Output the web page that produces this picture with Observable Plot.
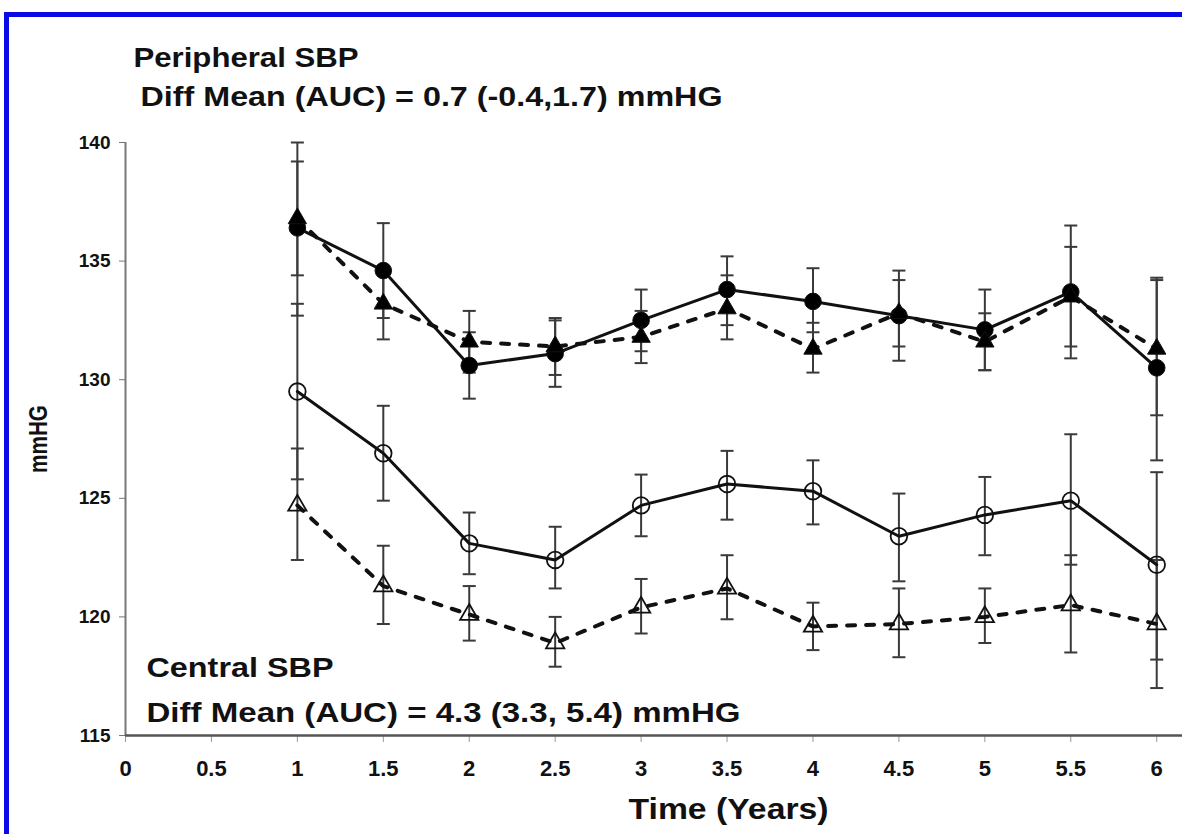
<!DOCTYPE html>
<html>
<head>
<meta charset="utf-8">
<script src="https://cdn.jsdelivr.net/npm/d3@7"></script>
<script src="https://cdn.jsdelivr.net/npm/@observablehq/plot@0.6"></script>
<style>
  html, body { margin: 0; padding: 0; background: #fff; }
  #wrap { position: relative; width: 1182px; height: 834px; overflow: hidden; background: #fff; }
  #wrap svg { position: absolute; left: 0; top: 0; font-family: "Liberation Sans", Arial, Helvetica, sans-serif; }
  .frame-top { position: absolute; left: 4px; top: 12px; width: 1178px; height: 5px; background: #0a0ae6; }
  .frame-left { position: absolute; left: 4px; top: 12px; width: 5px; height: 822px; background: #0a0ae6; }
</style>
</head>
<body>
<div id="wrap">
  <div class="frame-top"></div>
  <div class="frame-left"></div>
</div>
<script>
// Visit times (years)
const years = [1, 1.5, 2, 2.5, 3, 3.5, 4, 4.5, 5, 5.5, 6];

// Peripheral SBP, group shown with filled circles (solid line)
const peripheralCircle     = [136.4, 134.6, 130.6, 131.1, 132.5, 133.8, 133.3, 132.7, 132.1, 133.7, 130.5];
const peripheralCircleLow  = [132.7, 132.6, 129.2, 129.7, 131.2, 132.3, 132.0, 130.8, 130.4, 130.9, 126.6];
const peripheralCircleHigh = [140.0, 136.6, 132.0, 132.5, 133.8, 135.2, 134.7, 134.6, 133.8, 136.5, 134.3];

// Peripheral SBP, group shown with filled triangles (dashed line)
const peripheralTriangle     = [136.8, 133.2, 131.6, 131.4, 131.8, 133.0, 131.3, 132.8, 131.6, 133.5, 131.3];
const peripheralTriangleLow  = [134.4, 131.7, 130.3, 130.2, 130.7, 131.7, 130.3, 131.4, 130.4, 131.4, 128.5];
const peripheralTriangleHigh = [139.2, 134.8, 132.9, 132.6, 132.9, 134.4, 132.4, 134.2, 132.8, 135.6, 134.2];

// Central SBP, group shown with open circles (solid line)
const centralCircle     = [129.5, 126.9, 123.1, 122.4, 124.7, 125.6, 125.3, 123.4, 124.3, 124.9, 122.2];
const centralCircleLow  = [125.8, 124.9, 121.8, 121.2, 123.4, 124.1, 123.9, 121.5, 122.6, 122.2, 118.2];
const centralCircleHigh = [133.2, 128.9, 124.4, 123.8, 126.0, 127.0, 126.6, 125.2, 125.9, 127.7, 126.1];

// Central SBP, group shown with open triangles (dashed line)
const centralTriangle     = [124.7, 121.3, 120.1, 118.9, 120.4, 121.2, 119.6, 119.7, 120.0, 120.5, 119.7];
const centralTriangleLow  = [122.4, 119.7, 119.0, 117.9, 119.3, 119.9, 118.6, 118.3, 118.9, 118.5, 117.0];
const centralTriangleHigh = [127.1, 123.0, 121.3, 120.0, 121.6, 122.6, 120.6, 121.2, 121.2, 122.6, 122.4];

// Axis ticks and labels
const xTicks = [0, 0.5, 1, 1.5, 2, 2.5, 3, 3.5, 4, 4.5, 5, 5.5, 6];
const yTicks = [115, 120, 125, 130, 135, 140];
const peripheralTitle = "Peripheral SBP";
const peripheralDiff = "Diff Mean (AUC) = 0.7 (-0.4,1.7) mmHG";
const centralTitle = "Central SBP";
const centralDiff = "Diff Mean (AUC) = 4.3 (3.3, 5.4) mmHG";
const xLabel = "Time (Years)";
const yLabel = "mmHG";

const toRows = (mean, low, high) =>
  years.map((t, i) => ({t, v: mean[i], lo: low[i], hi: high[i]}));

const series = [
  {rows: toRows(peripheralCircle, peripheralCircleLow, peripheralCircleHigh), symbol: "circle", fill: "#000", dashed: false},
  {rows: toRows(peripheralTriangle, peripheralTriangleLow, peripheralTriangleHigh), symbol: "triangle", fill: "#000", dashed: true},
  {rows: toRows(centralCircle, centralCircleLow, centralCircleHigh), symbol: "circle", fill: "none", dashed: false},
  {rows: toRows(centralTriangle, centralTriangleLow, centralTriangleHigh), symbol: "triangle", fill: "none", dashed: true}
];

// Short horizontal stroke used as the error-bar cap
const capSymbol = {
  draw(context, size) {
    const w = Math.sqrt(size / Math.PI);
    context.moveTo(-w, 0);
    context.lineTo(w, 0);
  }
};

const barColor = "#3a3a3a";
const ink = "#111";
const titleFont = 28;

const marks = [];

// Error bars with caps
for (const s of series) {
  marks.push(Plot.ruleX(s.rows, {x: "t", y1: "lo", y2: "hi", stroke: barColor, strokeWidth: 2}));
  marks.push(Plot.dot(s.rows, {x: "t", y: "lo", symbol: capSymbol, r: 6.5, stroke: barColor, strokeWidth: 2, fill: "none"}));
  marks.push(Plot.dot(s.rows, {x: "t", y: "hi", symbol: capSymbol, r: 6.5, stroke: barColor, strokeWidth: 2, fill: "none"}));
}

// Connecting lines
for (const s of series) {
  marks.push(Plot.line(s.rows, {
    x: "t", y: "v", stroke: ink,
    strokeWidth: s.dashed ? 4 : 3,
    strokeDasharray: s.dashed ? "8,11" : null
  }));
}

// Markers
for (const s of series) {
  const isTri = s.symbol === "triangle";
  marks.push(Plot.dot(s.rows, {
    x: "t", y: "v", symbol: s.symbol,
    r: isTri ? 6.8 : 8.3,
    fill: s.fill,
    stroke: ink,
    strokeWidth: s.fill === "none" ? 1.8 : 1
  }));
}

// Tick labels drawn as text marks so their lettering can be set directly
const tickFont = {fontWeight: "bold", fill: ink};

const chart = Plot.plot({
  width: 1182,
  height: 834,
  marginTop: 142,
  marginBottom: 99,
  marginLeft: 125,
  marginRight: 0,
  x: {domain: [0, 6.15]},
  y: {domain: [115, 140]},
  marks: [
    // y axis
    Plot.axisY({ticks: yTicks, tickSize: 6, label: null, stroke: "#777", text: null}),
    Plot.text(yTicks, {y: d => d, frameAnchor: "left", dx: -15, textAnchor: "end",
      text: d => String(d), fontSize: 19, ...tickFont}),
    Plot.ruleX([0], {y1: 115, y2: 140, stroke: "#777", strokeWidth: 2}),
    // x axis
    Plot.axisX({ticks: xTicks, tickSize: 7, label: null, stroke: "#999", text: null}),
    Plot.text(xTicks, {x: d => d, frameAnchor: "bottom", dy: 40, text: d => String(d),
      fontSize: 22, ...tickFont}),
    Plot.ruleY([115], {stroke: "#555", strokeWidth: 2.5}),
    ...marks,
    // Annotations
    Plot.text([peripheralTitle], {frameAnchor: "top-left", dx: 8, dy: -95, text: d => d,
      textAnchor: "start", fontSize: titleFont, fontWeight: "bold", fill: ink}),
    Plot.text([peripheralDiff], {frameAnchor: "top-left", dx: 15, dy: -56, text: d => d,
      textAnchor: "start", fontSize: titleFont, fontWeight: "bold", fill: ink}),
    Plot.text([centralTitle], {frameAnchor: "bottom-left", dx: 21, dy: -59, text: d => d,
      textAnchor: "start", fontSize: titleFont, fontWeight: "bold", fill: ink}),
    Plot.text([centralDiff], {frameAnchor: "bottom-left", dx: 21, dy: -14, text: d => d,
      textAnchor: "start", fontSize: titleFont, fontWeight: "bold", fill: ink}),
    Plot.text([xLabel], {frameAnchor: "bottom-left", dx: 603, dy: 83, text: d => d,
      textAnchor: "middle", fontSize: 30, fontWeight: "bold", fill: ink}),
    Plot.text([yLabel], {frameAnchor: "left", dx: -87, text: d => d, rotate: -90,
      textAnchor: "middle", fontSize: 26, fontWeight: "bold", fill: ink})
  ]
});

// The lettering in this figure is set slightly wide; fit each label to its run length
const runLength = new Map([
  [peripheralTitle, 225],
  [peripheralDiff, 582],
  [centralTitle, 187],
  [centralDiff, 594],
  [xLabel, 200],
  [yLabel, 68]
]);
d3.select(chart).selectAll("g[aria-label='text'] text").each(function () {
  const w = runLength.get(this.textContent);
  if (w) {
    this.setAttribute("textLength", w);
    this.setAttribute("lengthAdjust", "spacingAndGlyphs");
  }
});

document.getElementById("wrap").appendChild(chart);
</script>
</body>
</html>
